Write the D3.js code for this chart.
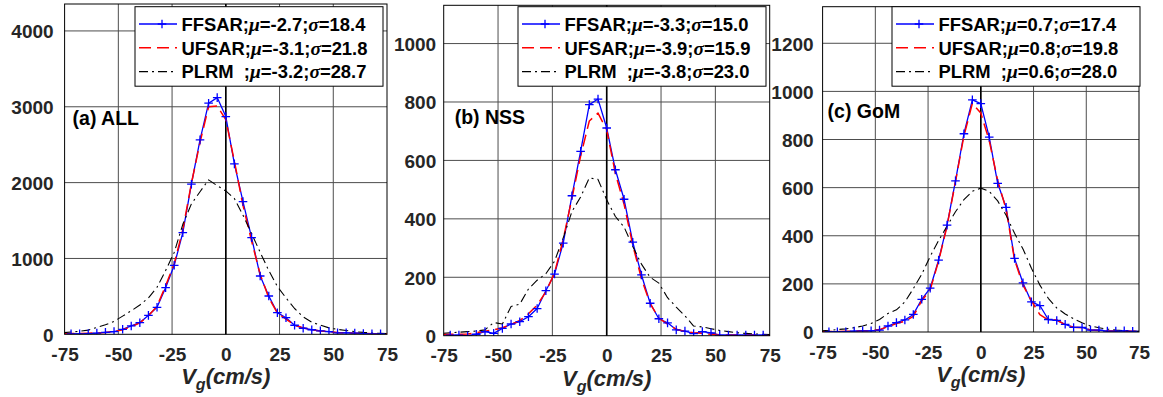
<!DOCTYPE html>
<html><head><meta charset="utf-8">
<script src="https://cdn.jsdelivr.net/npm/d3@7"></script>
<style>
html,body{margin:0;padding:0;background:#fff;}
svg{display:block;font-family:"Liberation Sans",Arial,Helvetica,sans-serif;}
</style></head>
<body><svg id="c" width="1163" height="397"></svg>
<script>
// ---- data ----
const vg = [-76,-72,-68,-64,-60,-56,-52,-48,-44,-40,-36,-32,-28,-24,-20,-16,-12,-8,-4,0,4,8,12,16,20,24,28,32,36,40,44,48,52,56,60,64,68,72,76];
const xTicks = [-75,-50,-25,0,25,50,75];

const ffsarAll = [5,5,5,10,15,25,35,66,110,153,250,356,615,910,1340,1979,2563,3047,3121,2871,2247,1749,1274,769,505,285,219,119,80,60,45,35,20,20,15,10,5,5,5];
const ufsarAll = [10,10,10,15,20,25,35,60,100,150,245,370,640,930,1380,1990,2530,3000,3010,2830,2280,1700,1230,790,480,280,200,125,85,60,45,35,25,20,15,10,8,5,5];
const plrmAll  = [20,30,40,55,90,125,170,240,310,386,480,620,840,1080,1450,1720,1880,2036,1960,1890,1790,1570,1330,1080,840,630,480,340,230,160,120,85,65,50,35,25,18,12,8];

const ffsarNSS = [3,2,2,0,5,14,8,25,40,48,65,93,154,211,317,479,631,791,810,711,568,467,320,208,111,58,44,20,16,7,14,10,2,2,2,2,2,2,2];
const ufsarNSS = [5,5,5,6,10,15,20,27,38,52,75,105,150,215,330,470,615,735,762,705,555,450,310,195,110,60,40,22,15,10,8,5,3,2,2,2,2,2,2];
const plrmNSS  = [8,10,12,14,16,20,45,40,100,108,160,190,212,255,335,425,475,540,535,465,408,372,305,245,200,180,130,98,68,33,30,24,18,14,10,8,6,5,4];

const ffsarGoM = [1,1,1,1,4,5,5,8,25,39,50,73,136,182,299,444,628,824,965,949,810,618,518,306,204,125,110,52,48,32,19,19,8,8,4,4,5,3,2];
const ufsarGoM = [2,2,2,3,4,5,6,10,22,35,45,65,130,175,295,440,625,815,950,910,795,630,510,300,195,130,72,50,50,30,20,18,8,6,4,4,4,3,2];
const plrmGoM  = [5,7,10,13,18,25,35,52,77,92,125,180,240,314,380,440,500,550,585,598,585,545,485,410,345,265,195,140,100,75,55,38,25,18,12,8,6,4,3];

const seriesNames = ["FFSAR","UFSAR","PLRM  "];
const muAll = ["-2.7","-3.1","-3.2"], sigmaAll = ["18.4","21.8","28.7"];
const muNSS = ["-3.3","-3.9","-3.8"], sigmaNSS = ["15.0","15.9","23.0"];
const muGoM = ["0.7","0.8","0.6"],   sigmaGoM = ["17.4","19.8","28.0"];

const yTicksAll = [0,1000,2000,3000,4000];
const yTicksNSS = [0,200,400,600,800,1000];
const yTicksGoM = [0,200,400,600,800,1000,1200];
const yMaxes = [4355,1131,1352];
const panelLabels = ["(a) ALL","(b) NSS","(c) GoM"];

// ---- layout ----
const panels = [
  {left:64.6, right:387,  top:4,   bottom:334.3, ff:ffsarAll, uf:ufsarAll, pl:plrmAll, mu:muAll, sg:sigmaAll, yt:yTicksAll, yMax:yMaxes[0], label:panelLabels[0], lx:8,  ly:125, legR:383, ypad:11},
  {left:443.7,right:769.7,top:5.3, bottom:335.7, ff:ffsarNSS, uf:ufsarNSS, pl:plrmNSS, mu:muNSS, sg:sigmaNSS, yt:yTicksNSS, yMax:yMaxes[1], label:panelLabels[1], lx:11, ly:124, legR:766, ypad:7.5},
  {left:822.6,right:1139, top:6.7, bottom:332,   ff:ffsarGoM, uf:ufsarGoM, pl:plrmGoM, mu:muGoM, sg:sigmaGoM, yt:yTicksGoM, yMax:yMaxes[2], label:panelLabels[2], lx:5,  ly:118, legR:1140, ypad:9}
];
const styles = [
  {color:"#0000ff", width:1.3, dash:null, marker:true},
  {color:"#ff0000", width:1.5, dash:"12,6", marker:false},
  {color:"#000000", width:1.1, dash:"9,4,2,4", marker:false}
];

const svg = d3.select("#c");
const txtCol = "#262626";
const fmt = d => String(d);

panels.forEach((p,pi)=>{
  const x = d3.scaleLinear().domain([-75,75]).range([p.left,p.right]);
  const y = d3.scaleLinear().domain([0,p.yMax]).range([p.bottom,p.top]);
  const g = svg.append("g");
  const cid = "clip"+pi;
  svg.append("defs").append("clipPath").attr("id",cid).append("rect")
    .attr("x",p.left).attr("y",p.top).attr("width",p.right-p.left).attr("height",p.bottom-p.top);

  // grid
  g.append("g").selectAll("line").data(xTicks.slice(1,-1)).join("line")
    .attr("x1",d=>x(d)).attr("x2",d=>x(d)).attr("y1",p.top).attr("y2",p.bottom)
    .attr("stroke","#4d4d4d").attr("stroke-width",1);
  g.append("g").selectAll("line").data(p.yt.filter(d=>d>0)).join("line")
    .attr("x1",p.left).attr("x2",p.right).attr("y1",d=>y(d)).attr("y2",d=>y(d))
    .attr("stroke","#4d4d4d").attr("stroke-width",1);

  // zero line
  g.append("line").attr("x1",x(0)).attr("x2",x(0)).attr("y1",p.top).attr("y2",p.bottom)
    .attr("stroke","#000").attr("stroke-width",1.6);

  // axes tick labels
  const xa = d3.axisBottom(x).tickValues(xTicks).tickFormat(fmt).tickSize(0).tickPadding(0);
  const xg = g.append("g").attr("transform",`translate(0,${p.bottom})`).call(xa);
  xg.select(".domain").remove();
  xg.selectAll("text").attr("y",26.5).attr("dy",null).attr("font-size",19).attr("font-weight","bold")
    .attr("fill",txtCol).attr("font-family","Liberation Sans, Arial, sans-serif");
  const ya = d3.axisLeft(y).tickValues(p.yt).tickFormat(fmt).tickSize(0).tickPadding(p.ypad);
  const yg = g.append("g").attr("transform",`translate(${p.left},0)`).call(ya);
  yg.select(".domain").remove();
  yg.selectAll("text").attr("dy","0.36em").attr("font-size",19).attr("font-weight","bold")
    .attr("fill",txtCol).attr("font-family","Liberation Sans, Arial, sans-serif");

  // data
  const line = d3.line().x((d,i)=>x(vg[i])).y(d=>y(d));
  const dg = g.append("g").attr("clip-path",`url(#${cid})`);
  [p.ff,p.uf,p.pl].forEach((vals,si)=>{
    const st = styles[si];
    dg.append("path").datum(vals).attr("d",line).attr("fill","none")
      .attr("stroke",st.color).attr("stroke-width",st.width)
      .attr("stroke-dasharray",st.dash).attr("stroke-linejoin","round");
  });
  // markers
  const ms = 4.3;
  const mk = vals=>vals.map((v,i)=>({v:vg[i],c:v})).filter(d=>d.v>=-75&&d.v<=75);
  dg.append("g").selectAll("path").data(mk(p.ff)).join("path")
    .attr("d",d=>`M${x(d.v)-ms},${y(d.c)}H${x(d.v)+ms}M${x(d.v)},${y(d.c)-ms}V${y(d.c)+ms}`)
    .attr("stroke","#0000ff").attr("stroke-width",1.3);

  // box
  g.append("rect").attr("x",p.left).attr("y",p.top).attr("width",p.right-p.left).attr("height",p.bottom-p.top)
    .attr("fill","none").attr("stroke","#000").attr("stroke-width",1);

  // panel label
  g.append("text").attr("x",p.left+p.lx).attr("y",p.ly).text(p.label)
    .attr("font-size",19.5).attr("font-weight","bold").attr("fill","#000");

  // x label
  const xl = g.append("text").attr("x",x(0)).attr("y",p.bottom+50).attr("text-anchor","middle")
    .attr("font-size",22).attr("font-weight","bold").attr("font-style","italic").attr("fill",txtCol);
  xl.append("tspan").text("V");
  xl.append("tspan").text("g").attr("font-size",16).attr("dy",6);
  xl.append("tspan").text("(cm/s)").attr("dy",-6);

  // legend
  const lw = 248, lh = 79.5, lt = 6.7, ll = p.legR - lw;
  const lg = g.append("g");
  lg.append("rect").attr("x",ll).attr("y",lt).attr("width",lw).attr("height",lh)
    .attr("fill","#fff").attr("stroke","#000").attr("stroke-width",1);
  seriesNames.forEach((nm,si)=>{
    const st = styles[si];
    const cy = lt + 17.3 + si*23.8;
    lg.append("line").attr("x1",ll+4).attr("x2",ll+42).attr("y1",cy).attr("y2",cy)
      .attr("stroke",st.color).attr("stroke-width",st.width).attr("stroke-dasharray",st.dash);
    if(st.marker){
      lg.append("path").attr("d",`M${ll+27-ms},${cy}H${ll+27+ms}M${ll+27},${cy-ms}V${cy+ms}`)
        .attr("stroke",st.color).attr("stroke-width",1.3);
    }
    const t = lg.append("text").attr("x",ll+46.5).attr("y",cy+6.8).attr("font-size",18.4)
      .attr("font-weight","bold").attr("fill","#000").style("white-space","pre");
    t.append("tspan").text(nm+";");
    t.append("tspan").text("μ").attr("font-family","Liberation Serif, serif").attr("font-style","italic").attr("font-size",19.5);
    t.append("tspan").text("="+p.mu[si]+";");
    t.append("tspan").text("σ").attr("font-family","Liberation Serif, serif").attr("font-style","italic").attr("font-size",19.5);
    t.append("tspan").text("="+p.sg[si]);
  });
});
</script></body></html>
